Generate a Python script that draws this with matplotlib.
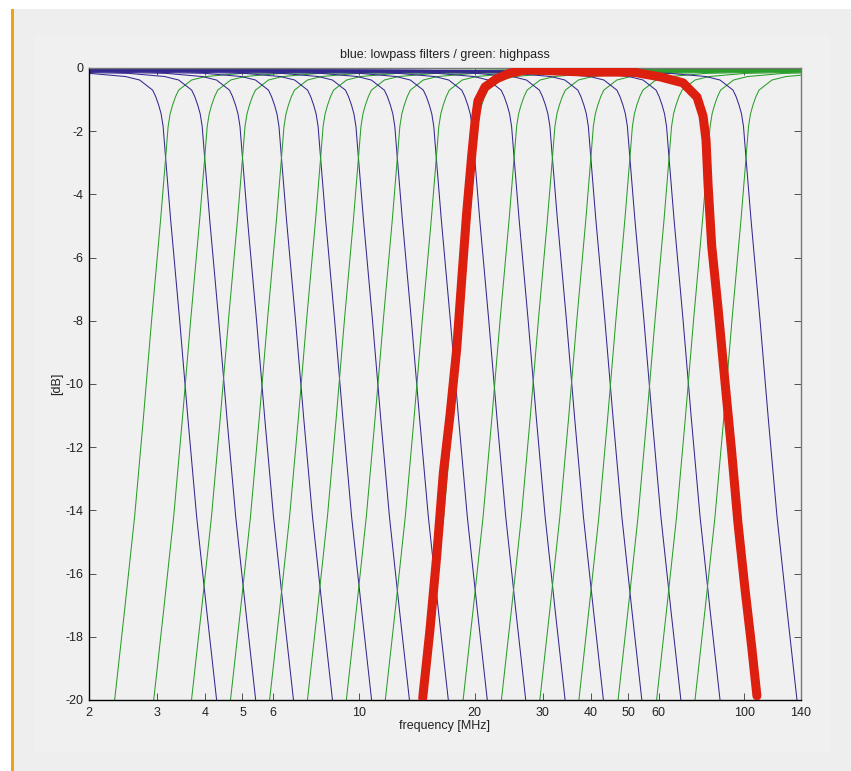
import numpy as np
import matplotlib
matplotlib.use("Agg")
import matplotlib.pyplot as plt
from matplotlib.patches import Rectangle

# ---------------- data ----------------
# crossover (cutoff) frequencies of the low-/high-pass filter pairs [MHz]
fc_mhz = [3.16, 3.99, 5.00, 6.31, 7.97, 9.99, 12.6, 15.9,
          20.0, 25.3, 31.8, 40.0, 50.5, 63.8, 80.3, 101.0]

# response shape of one lowpass filter:
# offset from cutoff (decades) and attenuation (dB); highpass is its mirror
lp_offset_dec = [-1.815, -0.778, -0.389, -0.197, -0.104, -0.0674, -0.0337,
                 -0.0259, -0.0181, -0.0117, -0.0065, 0.0, 0.0130, 0.0363,
                 0.0578, 0.0804, 0.1063, 0.1322, 0.1556]
lp_db = [-0.03, -0.07, -0.12, -0.17, -0.27, -0.38, -0.70,
         -0.90, -1.17, -1.45, -1.85, -2.85, -4.8, -7.97,
         -11.1, -14.2, -17.15, -20.0, -22.6]

# hand-drawn red band outline
red_freq = [14.66, 15.31, 15.94, 16.58, 17.26, 17.96, 18.51, 19.06, 19.65,
            20.03, 20.39, 21.27, 22.80, 24.69, 27.33, 39.09, 51.44, 60.44,
            69.33, 75.39, 78.15, 79.56, 80.52, 82.3, 85.46, 89.1, 92.73,
            96.27, 100.4, 104.5, 107.8]
red_db = [-19.94, -17.78, -15.44, -12.82, -10.98, -8.89, -6.68, -4.59, -2.75,
          -1.71, -1.04, -0.60, -0.34, -0.16, -0.06, -0.13, -0.13, -0.28,
          -0.47, -0.92, -1.52, -2.28, -3.67, -5.63, -7.59, -9.94, -12.15,
          -14.40, -16.49, -18.32, -19.87]

xtick_vals = [2, 3, 4, 5, 6, 10, 20, 30, 40, 50, 60, 100, 140]
xtick_labels = ["2", "3", "4", "5", "6", "10", "20", "30", "40", "50", "60", "100", "140"]
ytick_vals = [0, -2, -4, -6, -8, -10, -12, -14, -16, -18, -20]

# ---------------- figure ----------------
plt.rcParams["font.family"] = ["Liberation Sans", "DejaVu Sans"]
W, H = 851, 771
fig = plt.figure(figsize=(W / 100, H / 100), dpi=100, facecolor="white")

# window background panels and orange side bar
fig.patches.append(Rectangle((14 / W, 0), (W - 14) / W, (H - 9) / H,
                             transform=fig.transFigure, facecolor="#eeeeee",
                             edgecolor="none", zorder=-3))
fig.patches.append(Rectangle((35 / W, (H - 753) / H), (830 - 35) / W, (753 - 35) / H,
                             transform=fig.transFigure, facecolor="#f0f0f0",
                             edgecolor="none", zorder=-2))
fig.patches.append(Rectangle((11 / W, 0), 3 / W, (H - 9) / H,
                             transform=fig.transFigure, facecolor="#f2a20c",
                             edgecolor="none", zorder=-1))

ax = fig.add_axes([89 / W, 1 - 700 / H, (800.7 - 89) / W, (700 - 68) / H])
ax.set_facecolor("#f0f0f0")
ax.set_xscale("log")
ax.set_xlim(2, 140)
ax.set_ylim(-20, 0)

blue = "#35288f"
green = "#2a9d2a"
offs = np.array(lp_offset_dec)
for fc in fc_mhz:
    ax.plot(fc * 10 ** offs, lp_db, color=blue, lw=0.75, zorder=2)
    ax.plot(fc * 10 ** (-offs), lp_db, color=green, lw=0.75, zorder=2)

ax.plot(red_freq, red_db, color="#dc1f0f", lw=6.5, solid_capstyle="round",
        solid_joinstyle="round", zorder=5)

ax.xaxis.set_minor_locator(matplotlib.ticker.NullLocator())
ax.set_xticks(xtick_vals)
ax.set_xticklabels(xtick_labels)
ax.set_yticks(ytick_vals)
ax.set_yticklabels([str(v) for v in ytick_vals])
ax.tick_params(axis="both", which="both", direction="in", length=5, width=0.7,
               top=True, right=True, colors="#505050", labelcolor="#222222",
               labelsize=9)
ax.tick_params(axis="x", pad=5)
ax.tick_params(axis="y", pad=4)

for s in ["left", "bottom"]:
    ax.spines[s].set_color("black")
    ax.spines[s].set_linewidth(1.0)
for s in ["top", "right"]:
    ax.spines[s].set_color("#777777")
    ax.spines[s].set_linewidth(1.0)

ax.set_title("blue: lowpass filters / green: highpass", fontsize=9,
             color="#222222", pad=7)
ax.set_xlabel("frequency [MHz]", fontsize=9, color="#222222", labelpad=1)
ax.set_ylabel("[dB]", fontsize=9, color="#222222", labelpad=2)

fig.savefig("out.png", dpi=100, facecolor=fig.get_facecolor())
